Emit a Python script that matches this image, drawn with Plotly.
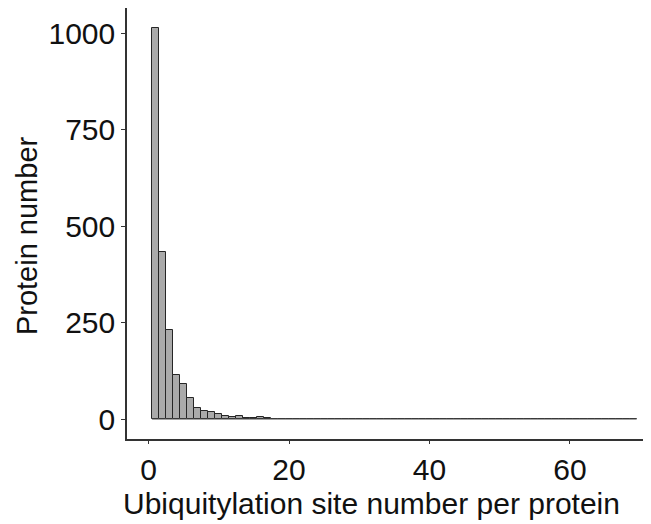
import plotly.graph_objects as go

# Data: number of ubiquitylation sites per protein (bins) and protein counts
site_bins = list(range(1, 70))
head_counts = [1013, 433, 232, 114, 91, 54, 30, 21, 19, 13,
               8, 6, 8, 4, 4, 6, 3, 2, 2, 2]
tail_counts = [0] * (len(site_bins) - len(head_counts) - 1) + [1]
protein_counts = head_counts + tail_counts

x_ticks = [0, 20, 40, 60]
y_ticks = [0, 250, 500, 750, 1000]

x_title = "Ubiquitylation site number per protein"
y_title = "Protein number"

FONT = "Liberation Sans, Arial, sans-serif"
FS = 30

fig = go.Figure()
fig.add_trace(go.Bar(
    x=site_bins,
    y=protein_counts,
    width=1,
    marker=dict(color="#aaaaaa", line=dict(color="#262626", width=1)),
    showlegend=False,
))

# zero baseline spanning the full histogram range
fig.add_shape(type="line", xref="x", yref="y",
              x0=min(site_bins) - 0.5, x1=max(site_bins) + 0.5, y0=0, y1=0,
              line=dict(color="#8c8c8c", width=1), layer="above")

# axis titles as annotations for precise placement
fig.add_annotation(text=x_title, xref="paper", yref="paper",
                   x=0.468, y=-0.149, xanchor="center", yanchor="middle",
                   showarrow=False, font=dict(size=FS, color="#111111"))
fig.add_annotation(text=y_title, xref="paper", yref="paper",
                   x=-0.191, y=0.471, xanchor="center", yanchor="middle",
                   textangle=-90, showarrow=False,
                   font=dict(size=29, color="#111111"))

# page body has an 8px margin, so the figure is sized/margined to compensate
fig.update_layout(
    width=643, height=516,
    margin=dict(l=119, r=1, t=0, b=85),
    paper_bgcolor="white", plot_bgcolor="white",
    bargap=0,
    font=dict(family=FONT, size=FS, color="#111111"),
    xaxis=dict(
        range=[-3.07, 71.4],
        tickvals=x_ticks,
        automargin=False,
        showline=True, linecolor="#333333", linewidth=1.5,
        ticks="outside", ticklen=3, tickcolor="#333333",
        showgrid=False, zeroline=False,
        tickfont=dict(size=FS, color="#111111"),
    ),
    yaxis=dict(
        range=[-51, 1065],
        tickvals=y_ticks,
        automargin=False,
        showline=True, linecolor="#333333", linewidth=1.5,
        ticks="outside", ticklen=4, tickcolor="#333333",
        showgrid=False, zeroline=False,
        tickfont=dict(size=FS, color="#111111"),
    ),
)

fig.write_html("out.html")
